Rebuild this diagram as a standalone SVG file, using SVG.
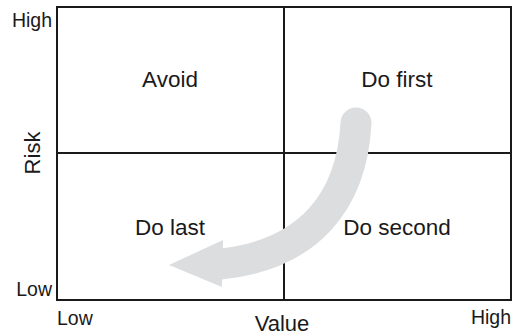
<svg xmlns="http://www.w3.org/2000/svg" width="513" height="336" viewBox="0 0 513 336">
<style>
text{font-family:"Liberation Sans",Arial,sans-serif;fill:#1a1a1a}
.q{font-size:22.5px;text-anchor:middle}
.a{font-size:19.5px}
.t{font-size:22px;text-anchor:middle}
.ln{stroke:#1a1a1a;stroke-width:2;fill:none}
</style>
<rect width="513" height="336" fill="#fff"/>
<g id="grid">
<rect class="ln" x="57" y="7" width="454" height="293"/>
<line class="ln" x1="284" y1="7" x2="284" y2="300"/>
<line class="ln" x1="57" y1="153" x2="511" y2="153"/>
</g>
<g id="connectors">
<path d="M356,123 C352,200 310,255 220,264" fill="none" stroke="#dcddde" stroke-width="31" stroke-linecap="round"/>
<polygon points="223,240 169,265 222,287" fill="#dcddde"/>
</g>
<g id="avoid"><text class="q" x="170" y="87">Avoid</text></g>
<g id="dofirst"><text class="q" x="397" y="87">Do first</text></g>
<g id="dolast"><text class="q" x="170" y="235">Do last</text></g>
<g id="dosecond"><text class="q" x="397" y="235">Do second</text></g>
<g id="axes">
<text class="a" x="52" y="27" text-anchor="end">High</text>
<text class="a" x="52" y="296" text-anchor="end">Low</text>
<text class="a" x="57" y="325">Low</text>
<text class="a" x="511" y="324" text-anchor="end">High</text>
<text class="t" x="282" y="331">Value</text>
<text class="t" x="0" y="0" transform="translate(40,153) rotate(-90)">Risk</text>
</g>
</svg>
